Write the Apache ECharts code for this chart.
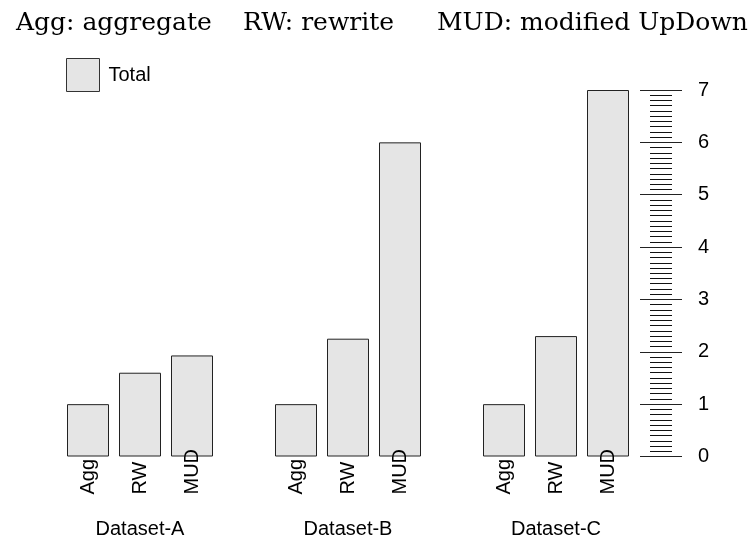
<!DOCTYPE html>
<html>
<head>
<meta charset="utf-8">
<script src="https://cdn.jsdelivr.net/npm/echarts@6/dist/echarts.min.js"></script>
<style>html,body{margin:0;padding:0;background:#fff;}#c{width:756px;height:550px;}</style>
</head>
<body>
<div id="c"></div>
<script>
var groups = ['Dataset-A', 'Dataset-B', 'Dataset-C'];
var methods = ['Agg', 'RW', 'MUD'];
var totalA = [1, 1.6, 1.93];
var totalB = [1, 2.25, 6];
var totalC = [1, 2.3, 7];
var yTicks = [0, 1, 2, 3, 4, 5, 6, 7];
var titleParts = ['Agg: aggregate', 'RW: rewrite', 'MUD: modified UpDown'];

var groupValues = [totalA, totalB, totalC];
var cats = [], groupCats = [], vals = [];
groups.forEach(function (g, gi) {
  methods.forEach(function (m, mi) {
    cats.push(m);
    groupCats.push(mi === 1 ? g : ' ');
    vals.push(groupValues[gi][mi]);
  });
  if (gi < groups.length - 1) { cats.push(' '); groupCats.push(' '); vals.push(null); }
});

var chart = echarts.init(document.getElementById('c'), null, {renderer: 'canvas'});
var sans = 'Liberation Sans';
var titleLefts = [11, 238, 432];
var tickAxisBase = {
  type: 'value', position: 'right', offset: 27,
  min: yTicks[0], max: yTicks[yTicks.length - 1], interval: 1,
  axisLine: {show: false},
  splitLine: {show: false},
  minorTick: {show: true, splitNumber: 10, length: 11, lineStyle: {color: '#111', width: 1}},
  minorSplitLine: {show: false}
};
chart.setOption({
  animation: false,
  title: titleParts.map(function (t, i) {
    return {
      text: t, left: titleLefts[i], top: 6,
      textStyle: {fontFamily: 'DejaVu Serif', fontSize: 25, fontWeight: 'normal', color: '#000'}
    };
  }),
  legend: {
    data: ['Total'], left: 61, top: 53, itemWidth: 33, itemHeight: 33, icon: 'rect',
    itemStyle: {borderWidth: 1, borderColor: '#333'},
    textStyle: {fontFamily: sans, fontSize: 20, color: '#000', padding: [8, 0, 0, 4]}
  },
  grid: {left: 62, right: 122, top: 90, bottom: 93.5},
  xAxis: [{
    type: 'category', data: cats, position: 'bottom', z: 10,
    axisLine: {show: false}, axisTick: {show: false},
    axisLabel: {interval: 0, rotate: 90, align: 'left', verticalAlign: 'middle', margin: 38,
      fontFamily: sans, fontSize: 20, color: '#000'}
  }, {
    type: 'category', data: groupCats, position: 'bottom',
    axisLine: {show: false}, axisTick: {show: false},
    axisLabel: {interval: 0, margin: 63, fontFamily: sans, fontSize: 20, color: '#000'}
  }],
  yAxis: [
    Object.assign({}, tickAxisBase, {
      axisTick: {show: true, length: 21, lineStyle: {color: '#222', width: 1}},
      axisLabel: {margin: 37, fontFamily: sans, fontSize: 20, color: '#000'}
    }),
    Object.assign({}, tickAxisBase, {
      axisTick: {show: true, inside: true, length: 21, lineStyle: {color: '#222', width: 1}},
      axisLabel: {show: false}
    })
  ],
  series: [{
    name: 'Total', type: 'bar', xAxisIndex: 0, yAxisIndex: 0, data: vals, barWidth: 42,
    itemStyle: {color: '#e5e5e5', borderColor: '#222', borderWidth: 1}
  }]
});
</script>
</body>
</html>
